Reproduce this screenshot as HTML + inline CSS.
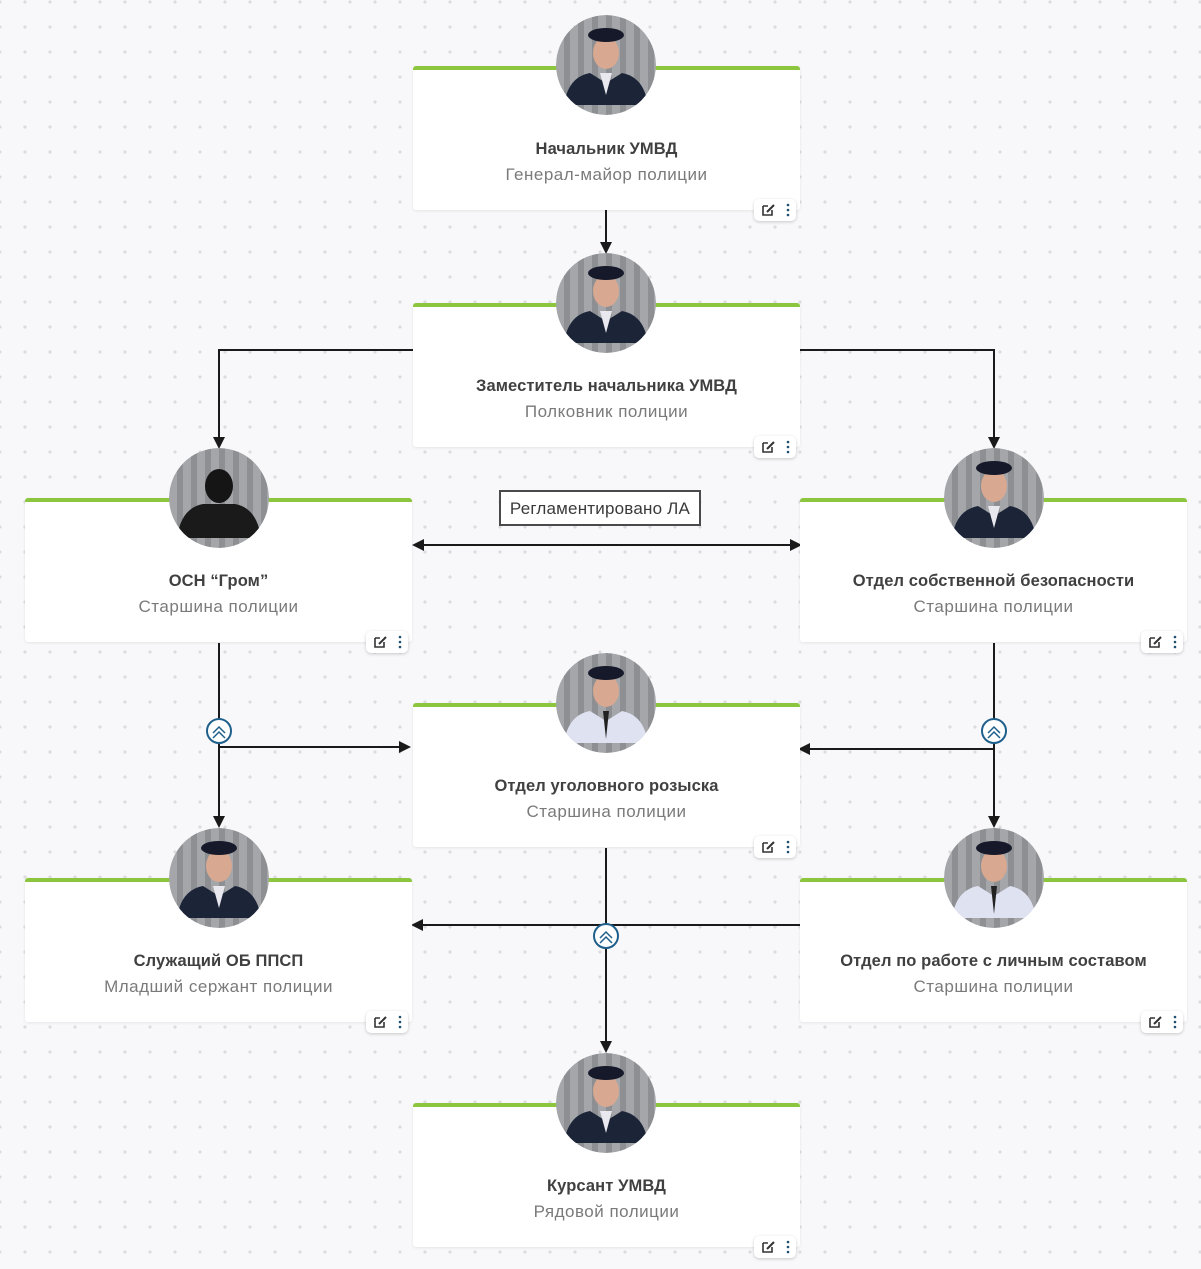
<!DOCTYPE html>
<html><head><meta charset="utf-8">
<style>
html,body{margin:0;padding:0}
body{width:1201px;height:1269px;position:relative;overflow:hidden;background-color:#f8f8fa;
background-image:radial-gradient(circle,#dcdce0 1.5px,transparent 1.8px);background-size:25px 25px;background-position:12.5px -10.5px;
font-family:"Liberation Sans","DejaVu Sans",sans-serif}
.card{position:absolute;width:387px;height:144px;background:#fff;border-top:4px solid #8cc63f;border-radius:3px;box-shadow:0 1px 3px rgba(0,0,0,0.08);box-sizing:border-box}
.t{position:absolute;left:0;right:0;top:70px;text-align:center;font-size:16.5px;font-weight:bold;color:#404040;letter-spacing:0.1px}
.s{position:absolute;left:0;right:0;top:95px;text-align:center;font-size:17px;color:#7a7a7a;letter-spacing:0.5px}
.btn{position:absolute;right:4px;bottom:-11px;width:42px;height:22px;background:#fff;border-radius:5px;box-shadow:0 1px 3px rgba(0,0,0,0.2)}
svg.lines{position:absolute;left:0;top:0}
.lbl{position:absolute;left:499px;top:490px;width:198px;height:32px;border:2px solid #4a4a4a;background:#fff;font-size:17px;color:#3a3a3a;text-align:center;line-height:34px;white-space:nowrap;letter-spacing:0.2px}
</style></head><body>

<svg class="lines" width="1201" height="1269">
<defs><marker id="a" markerWidth="12" markerHeight="12" refX="10" refY="6" orient="auto" markerUnits="userSpaceOnUse"><path d="M0,0 L12,6 L0,12 z" fill="#1a1a1a"/></marker>
<marker id="b" markerWidth="12" markerHeight="12" refX="2" refY="6" orient="auto" markerUnits="userSpaceOnUse"><path d="M12,0 L0,6 L12,12 z" fill="#1a1a1a"/></marker></defs>
<g stroke="#1a1a1a" stroke-width="2" fill="none">
<path d="M606,210 V252" marker-end="url(#a)"/>
<path d="M413,350 H219 V447" marker-end="url(#a)"/>
<path d="M800,350 H994 V447" marker-end="url(#a)"/>
<path d="M414,545 H800" marker-start="url(#b)" marker-end="url(#a)"/>
<path d="M219,643 V826" marker-end="url(#a)"/>
<path d="M219,747 H409" marker-end="url(#a)"/>
<path d="M994,643 V826" marker-end="url(#a)"/>
<path d="M994,749 H800" marker-end="url(#a)"/>
<path d="M606,848 V1051" marker-end="url(#a)"/>
<path d="M800,925 H413" marker-end="url(#a)"/>
</g>
<g>
<circle cx="219" cy="731" r="12" fill="#fff" stroke="#1f5f8b" stroke-width="2"/><path d="M213,733 l6,-6 l6,6 M213,738 l6,-6 l6,6" stroke="#1f5f8b" stroke-width="1.5" fill="none"/>
<circle cx="994" cy="731" r="12" fill="#fff" stroke="#1f5f8b" stroke-width="2"/><path d="M988,733 l6,-6 l6,6 M988,738 l6,-6 l6,6" stroke="#1f5f8b" stroke-width="1.5" fill="none"/>
<circle cx="606" cy="936" r="12" fill="#fff" stroke="#1f5f8b" stroke-width="2"/><path d="M600,938 l6,-6 l6,6 M600,943 l6,-6 l6,6" stroke="#1f5f8b" stroke-width="1.5" fill="none"/>
</g>
</svg>
<div class="lbl">Регламентировано ЛА</div>

<div class="card" style="left:413px;top:66px"><div class="t">Начальник УМВД</div><div class="s">Генерал-майор полиции</div><div class="btn"><svg width="42" height="22"><path d="M9,7 h5 M9,7 v9 h9 v-5" stroke="#333" stroke-width="1.6" fill="none"/><path d="M13,13 l7,-7" stroke="#333" stroke-width="2"/><circle cx="34" cy="6" r="1.3" fill="#1f4f70"/><circle cx="34" cy="11" r="1.3" fill="#1f4f70"/><circle cx="34" cy="16" r="1.3" fill="#1f4f70"/></svg></div></div>
<div class="card" style="left:413px;top:303px"><div class="t">Заместитель начальника УМВД</div><div class="s">Полковник полиции</div><div class="btn"><svg width="42" height="22"><path d="M9,7 h5 M9,7 v9 h9 v-5" stroke="#333" stroke-width="1.6" fill="none"/><path d="M13,13 l7,-7" stroke="#333" stroke-width="2"/><circle cx="34" cy="6" r="1.3" fill="#1f4f70"/><circle cx="34" cy="11" r="1.3" fill="#1f4f70"/><circle cx="34" cy="16" r="1.3" fill="#1f4f70"/></svg></div></div>
<div class="card" style="left:25px;top:498px"><div class="t">ОСН “Гром”</div><div class="s">Старшина полиции</div><div class="btn"><svg width="42" height="22"><path d="M9,7 h5 M9,7 v9 h9 v-5" stroke="#333" stroke-width="1.6" fill="none"/><path d="M13,13 l7,-7" stroke="#333" stroke-width="2"/><circle cx="34" cy="6" r="1.3" fill="#1f4f70"/><circle cx="34" cy="11" r="1.3" fill="#1f4f70"/><circle cx="34" cy="16" r="1.3" fill="#1f4f70"/></svg></div></div>
<div class="card" style="left:800px;top:498px"><div class="t">Отдел собственной безопасности</div><div class="s">Старшина полиции</div><div class="btn"><svg width="42" height="22"><path d="M9,7 h5 M9,7 v9 h9 v-5" stroke="#333" stroke-width="1.6" fill="none"/><path d="M13,13 l7,-7" stroke="#333" stroke-width="2"/><circle cx="34" cy="6" r="1.3" fill="#1f4f70"/><circle cx="34" cy="11" r="1.3" fill="#1f4f70"/><circle cx="34" cy="16" r="1.3" fill="#1f4f70"/></svg></div></div>
<div class="card" style="left:413px;top:703px"><div class="t">Отдел уголовного розыска</div><div class="s">Старшина полиции</div><div class="btn"><svg width="42" height="22"><path d="M9,7 h5 M9,7 v9 h9 v-5" stroke="#333" stroke-width="1.6" fill="none"/><path d="M13,13 l7,-7" stroke="#333" stroke-width="2"/><circle cx="34" cy="6" r="1.3" fill="#1f4f70"/><circle cx="34" cy="11" r="1.3" fill="#1f4f70"/><circle cx="34" cy="16" r="1.3" fill="#1f4f70"/></svg></div></div>
<div class="card" style="left:25px;top:878px"><div class="t">Служащий ОБ ППСП</div><div class="s">Младший сержант полиции</div><div class="btn"><svg width="42" height="22"><path d="M9,7 h5 M9,7 v9 h9 v-5" stroke="#333" stroke-width="1.6" fill="none"/><path d="M13,13 l7,-7" stroke="#333" stroke-width="2"/><circle cx="34" cy="6" r="1.3" fill="#1f4f70"/><circle cx="34" cy="11" r="1.3" fill="#1f4f70"/><circle cx="34" cy="16" r="1.3" fill="#1f4f70"/></svg></div></div>
<div class="card" style="left:800px;top:878px"><div class="t">Отдел по работе с личным составом</div><div class="s">Старшина полиции</div><div class="btn"><svg width="42" height="22"><path d="M9,7 h5 M9,7 v9 h9 v-5" stroke="#333" stroke-width="1.6" fill="none"/><path d="M13,13 l7,-7" stroke="#333" stroke-width="2"/><circle cx="34" cy="6" r="1.3" fill="#1f4f70"/><circle cx="34" cy="11" r="1.3" fill="#1f4f70"/><circle cx="34" cy="16" r="1.3" fill="#1f4f70"/></svg></div></div>
<div class="card" style="left:413px;top:1103px"><div class="t">Курсант УМВД</div><div class="s">Рядовой полиции</div><div class="btn"><svg width="42" height="22"><path d="M9,7 h5 M9,7 v9 h9 v-5" stroke="#333" stroke-width="1.6" fill="none"/><path d="M13,13 l7,-7" stroke="#333" stroke-width="2"/><circle cx="34" cy="6" r="1.3" fill="#1f4f70"/><circle cx="34" cy="11" r="1.3" fill="#1f4f70"/><circle cx="34" cy="16" r="1.3" fill="#1f4f70"/></svg></div></div>

<svg class="lines" width="1201" height="1269">
<defs>
<pattern id="st" width="14" height="100" patternUnits="userSpaceOnUse"><rect width="14" height="100" fill="#a4a6aa"/><rect width="6" height="100" fill="#8d8f93"/></pattern>
<g id="av">
<circle r="50" fill="url(#st)"/>
<ellipse cx="0" cy="-12" rx="13" ry="16" fill="#d8a890"/>
<path d="M-42,40 Q-38,12 -16,8 L0,18 L16,8 Q38,12 42,40 Z" fill="#1c2438"/>
<path d="M-6,8 L0,30 L6,8 Z" fill="#e8e8ee"/>
<ellipse cx="0" cy="-30" rx="18" ry="7" fill="#15192a"/>
</g>
<g id="avw">
<circle r="50" fill="url(#st)"/>
<ellipse cx="0" cy="-12" rx="13" ry="16" fill="#d8a890"/>
<path d="M-42,40 Q-38,12 -16,8 L0,18 L16,8 Q38,12 42,40 Z" fill="#dfe2f0"/>
<path d="M-3,8 L0,36 L3,8 Z" fill="#222"/>
<ellipse cx="0" cy="-30" rx="18" ry="7" fill="#15192a"/>
</g>
<clipPath id="c"><circle r="50"/></clipPath>
</defs>
<g clip-path="url(#c)" transform="translate(606,65)"><use href="#av"/></g>
<g clip-path="url(#c)" transform="translate(606,303)"><use href="#av"/></g>
<g clip-path="url(#c)" transform="translate(219,498)"><circle r="50" fill="url(#st)"/><ellipse cx="0" cy="-12" rx="14" ry="17" fill="#151515"/><path d="M-42,40 Q-38,10 -16,6 L16,6 Q38,10 42,40 Z" fill="#1a1a1a"/></g>
<g clip-path="url(#c)" transform="translate(994,498)"><use href="#av"/></g>
<g clip-path="url(#c)" transform="translate(606,703)"><use href="#avw"/></g>
<g clip-path="url(#c)" transform="translate(219,878)"><use href="#av"/></g>
<g clip-path="url(#c)" transform="translate(994,878)"><use href="#avw"/></g>
<g clip-path="url(#c)" transform="translate(606,1103)"><use href="#av"/></g>
</svg>
</body></html>
